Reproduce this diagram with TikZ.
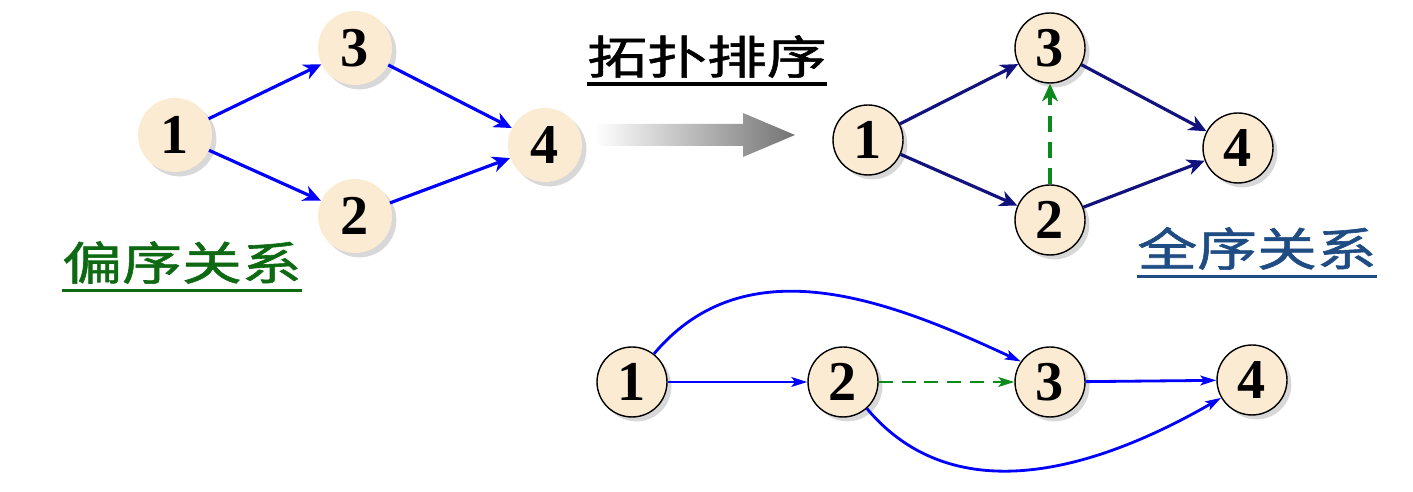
\documentclass[tikz,border=0pt]{standalone}
\usepackage{fontspec}
\setmainfont{Liberation Serif}
\newfontfamily\cjk[FakeStretch=1.31,FakeBold=1.3]{Noto Sans CJK SC}
\usetikzlibrary{arrows.meta,shadows}
\definecolor{cream}{HTML}{FBEBD3}
\definecolor{deepnavy}{HTML}{12127E}
\definecolor{partial}{HTML}{0E6A12}
\definecolor{total}{HTML}{1F4C82}
\definecolor{dashgreen}{HTML}{0A8A1A}

\begin{document}
\begin{tikzpicture}[x=0.02cm,y=-0.02cm,
  vtx/.style={circle,fill=cream,minimum size=1.4cm,inner sep=0pt,font=\fontsize{32}{32}\selectfont\bfseries,drop shadow={shadow xshift=2.5pt,shadow yshift=-2.5pt,fill=black!30,opacity=.5}},
  soft/.style={vtx,minimum size=1.48cm},
  ring/.style={vtx,draw=black,line width=.8pt},
  link/.style={draw=#1,line width=1.8pt,-{Stealth[length=10pt,width=9pt,inset=3pt]}},
  slim/.style={draw=#1,line width=1.6pt,-{Stealth[length=9pt,width=5.5pt,inset=2pt]}},
  title/.style={font=\cjk\fontsize{26}{26}\selectfont,text=#1,inner sep=0pt,anchor=base}]
  \useasboundingbox (0,0) rectangle (1413,492);

  % partial order
  \node[soft] (p1) at (175,135) {1};
  \node[soft] (p3) at (355,48) {3};
  \node[soft] (p2) at (355,216) {2};
  \node[soft] (p4) at (545,145) {4};
  \draw[link=blue] (p1) -- (p3);
  \draw[link=blue] (p1) -- (p2);
  \draw[link=blue] (p3) -- (p4);
  \draw[link=blue] (p2) -- (p4);
  \node[title=partial] (pianxu) at (182,280) {偏序关系};
  \draw[partial,line width=2.2pt] ([yshift=-6pt]pianxu.base west) -- ([yshift=-6pt]pianxu.base east);

  % sorting arrow
  \node[title=black] (tuopu) at (707,74) {拓扑排序};
  \draw[line width=2.2pt] ([yshift=-5.5pt]tuopu.base west) -- ([yshift=-5.5pt]tuopu.base east);
  \shade[left color=white,right color=black!55] (595,124) -- (743,124) -- (743,113) -- (795,135) -- (743,157) -- (743,146) -- (595,146) -- cycle;

  % total order
  \node[title=total] (quanxu) at (1257,266) {全序关系};
  \draw[total,line width=2.2pt] ([yshift=-6pt]quanxu.base west) -- ([yshift=-6pt]quanxu.base east);
  \node[ring] (t1) at (868,140) {1};
  \node[ring] (t3) at (1050,48) {3};
  \node[ring] (t2) at (1050,220) {2};
  \node[ring] (t4) at (1238,148) {4};
  \draw[link=deepnavy] (t1) -- (t3);
  \draw[link=deepnavy] (t1) -- (t2);
  \draw[link=deepnavy] (t3) -- (t4);
  \draw[link=deepnavy] (t2) -- (t4);
  \draw[link=dashgreen,dashed,dash pattern=on 9pt off 6pt] (t2) -- (t3);

  % linear sequence
  \node[ring] (s1) at (632,382) {1};
  \node[ring] (s2) at (843,382) {2};
  \node[ring] (s3) at (1050,382) {3};
  \node[ring] (s4) at (1252,380) {4};
  \draw[slim=blue] (s1) -- (s2);
  \draw[slim=dashgreen,dashed,dash pattern=on 8pt off 5pt] (s2) -- (s3);
  \draw[slim=blue] (s3) -- (s4);
  \draw[slim=blue] (s1.52) to[out=50,in=155] (s3.145);
  \draw[slim=blue] (s2.-48) to[out=-50,in=-150] (s4.210);
\end{tikzpicture}
\end{document}
